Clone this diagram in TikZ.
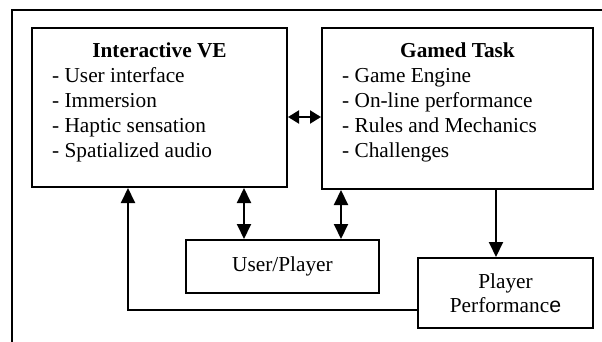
\documentclass[tikz,border=0pt]{standalone}
\usepackage{fontspec}
\setmainfont{Liberation Serif}
\newfontfamily\sanse{Liberation Sans}
\usetikzlibrary{arrows.meta}
\begin{document}
\begin{tikzpicture}[x=1pt,y=-1pt,
  box/.style={draw,line width=2pt,inner sep=0pt},
  txt/.style={inner sep=0pt,font=\fontsize{21.3}{24.7}\selectfont},
  conn/.style={line width=2pt,-{Triangle[length=15pt,width=14pt]}},
  dconn/.style={line width=2pt,{Triangle[length=15pt,width=14pt]}-{Triangle[length=15pt,width=14pt]}},
  hconn/.style={line width=2pt,{Triangle[length=11pt,width=13pt]}-{Triangle[length=11pt,width=13pt]}}]
\useasboundingbox (0,0) rectangle (602,342);
% outer frame (cropped)
\coordinate (fa) at (12,342);
\coordinate (fb) at (12,10);
\coordinate (fc) at (602,10);
\draw[line width=2pt] (fa) -- (fb) -- (fc);
% boxes
\node[box,minimum width=255pt,minimum height=159pt] (ive) at (159.5,107.5) {};
\node[box,minimum width=271pt,minimum height=161pt] (gt) at (457.5,108.5) {};
\node[box,minimum width=193pt,minimum height=53pt] (up) at (282.5,266.5) {};
\node[box,minimum width=175pt,minimum height=70pt] (pp) at (505.5,293) {};
% texts
\node[txt,anchor=base,font=\fontsize{21.3}{24.7}\selectfont\bfseries] (ivet) at (159.5,58) {Interactive VE};
\node[txt,anchor=base west] (ivel) at (52,83) {\begin{tabular}[t]{@{}l@{}}- User interface\\- Immersion\\- Haptic sensation\\- Spatialized audio\end{tabular}};
\node[txt,anchor=base,font=\fontsize{21.3}{24.7}\selectfont\bfseries] (gtt) at (457.5,58) {Gamed Task};
\node[txt,anchor=base west] (gtl) at (342,83) {\begin{tabular}[t]{@{}l@{}}- Game Engine\\- On-line performance\\- Rules and Mechanics\\- Challenges\end{tabular}};
\node[txt,anchor=base] (upt) at (282.5,271) {User/Player};
\node[txt,anchor=base] (ppt) at (505.5,288) {\begin{tabular}[t]{@{}c@{}}Player\\Performanc{\sanse e}\end{tabular}};
% connectors
\draw[hconn] (ive.east |- 0,117) -- (gt.west |- 0,117);
\draw[dconn] (ive.south -| 244,0) -- (up.north -| 244,0);
\draw[dconn] (gt.south -| 341,0) -- (up.north -| 341,0);
\draw[conn] (gt.south -| 496,0) -- (pp.north -| 496,0);
\draw[conn] (pp.west |- 0,310) -| (ive.south -| 128,0);
\end{tikzpicture}
\end{document}
